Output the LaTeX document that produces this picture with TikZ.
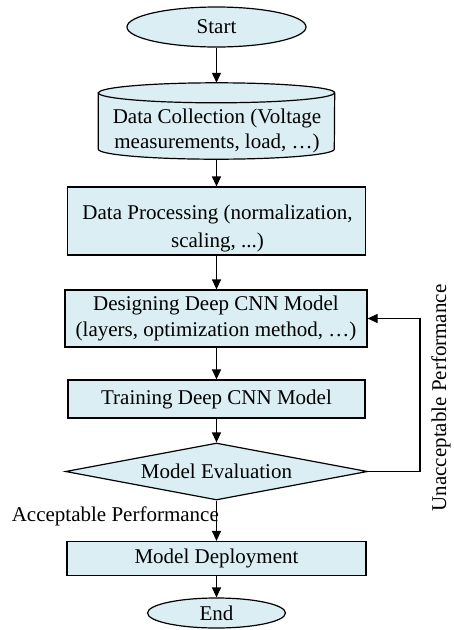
\documentclass[tikz,border=0pt]{standalone}
\usepackage{fontspec}
\setmainfont{Liberation Serif}
\usetikzlibrary{shapes.geometric,arrows.meta}
\definecolor{boxfill}{HTML}{DAEEF3}
\begin{document}
\begin{tikzpicture}[x=1pt,y=-1pt,
  every node/.style={font=\fontsize{21}{27}\selectfont},
  base/.style={draw=black, line width=1.2pt, fill=boxfill, inner sep=0pt, align=center},
  proc/.style={base, rectangle},
  term/.style={base, ellipse},
  decision/.style={base, diamond, aspect=5.3},
  cyl/.style={draw=black, line width=1.2pt, fill=boxfill},
  flow/.style={draw=black, line width=1.2pt, -{Triangle[length=10pt,width=9pt]}},
  lbl/.style={inner sep=0pt, align=center}]
\useasboundingbox (0,0) rectangle (454,630);
\node[term, minimum width=179pt, minimum height=40pt] (start) at (216.5,27) {Start};
% cylinder
\node[inner sep=0pt, minimum width=236pt, minimum height=76pt] (dc) at (216.5,121) {};
\draw[cyl] ([yshift=-10pt]dc.north west) -- ([yshift=10pt]dc.south west)
  arc[start angle=180,end angle=360,x radius=118pt,y radius=10pt]
  -- ([yshift=-10pt]dc.north east)
  arc[start angle=0,end angle=180,x radius=118pt,y radius=10pt] -- cycle;
\draw[cyl, fill=none] ([yshift=-10pt]dc.north west)
  arc[start angle=180,end angle=360,x radius=118pt,y radius=10pt];
\node[lbl, font=\fontsize{21}{25}\selectfont] (dct) at (217,131) {Data Collection (Voltage\\measurements, load, …)};
% data processing
\node[proc, minimum width=298pt, minimum height=68pt] (dp) at (216.5,221) {};
\node[lbl, font=\fontsize{21}{28}\selectfont] (dpt) at (217.5,228) {Data Processing (normalization,\\scaling, ...)};
\node[proc, minimum width=302pt, minimum height=57pt, font=\fontsize{21}{26}\selectfont] (ds) at (216,318.5) {Designing Deep CNN Model\\(layers, optimization method, …)};
\node[proc, minimum width=297pt, minimum height=38pt] (tr) at (216.5,399) {Training Deep CNN Model};
\node[decision, minimum width=302pt, minimum height=57pt] (ev) at (216.5,471.5) {Model Evaluation};
\node[proc, minimum width=299pt, minimum height=34pt] (md) at (216.5,558.5) {Model Deployment};
\node[term, minimum width=138pt, minimum height=30pt] (fin) at (216.5,613) {End};
\draw[flow] (start.south) -- (dc.north);
\draw[flow] (dc.south) -- (dp.north);
\draw[flow] (dp.south) -- (dp.south |- ds.north);
\draw[flow] (dp.south |- ds.south) -- (tr.north);
\draw[flow] (tr.south) -- (ev.north);
\draw[flow] (ev.south) -- (md.north);
\draw[flow] (md.south) -- (fin.north);
\coordinate (c1) at (420,471.5);
\coordinate (c2) at (420,318.5);
\draw[flow] (ev.east) -- (c1) -- (c2) -- (ds.east);
\node[lbl, anchor=east] (acc) at (219,516) {Acceptable Performance};
\node[lbl, rotate=90] (unacc) at (441,398) {Unacceptable Performance};
\end{tikzpicture}
\end{document}
